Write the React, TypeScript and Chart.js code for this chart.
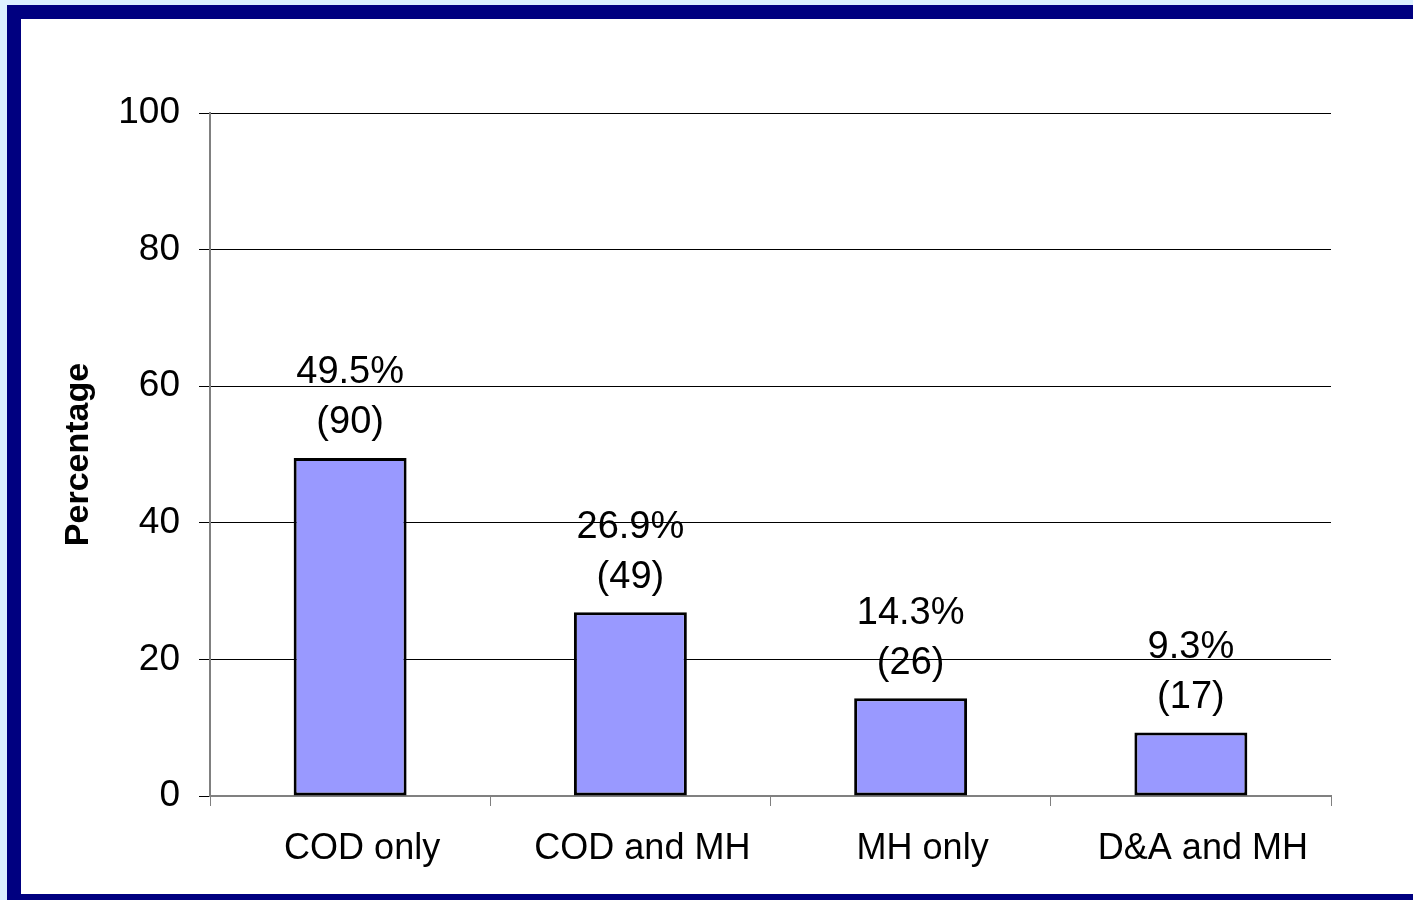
import React, { useEffect, useRef } from 'react';
import { Chart, registerables } from 'chart.js';

Chart.register(...registerables);

const categories = ['COD only', 'COD and MH', 'MH only', 'D&A and MH'];
const percentages = [49.5, 26.9, 14.3, 9.3];
const counts = [90, 49, 26, 17];
const yTicks = [0, 20, 40, 60, 80, 100];
const yTitle = 'Percentage';

const FONT = '"Liberation Sans", Arial, sans-serif';

const barLabelPlugin = {
  id: 'barLabels',
  afterDatasetsDraw(chart: any) {
    const ctx = chart.ctx;
    const meta = chart.getDatasetMeta(0);
    ctx.save();
    ctx.font = `38px ${FONT}`;
    ctx.fillStyle = '#000000';
    ctx.textAlign = 'center';
    ctx.textBaseline = 'middle';
    meta.data.forEach((el: any, i: number) => {
      const { x, y } = el.getProps(['x', 'y'], true);
      ctx.fillText(`${percentages[i].toFixed(1)}%`, x, y - 85);
      ctx.fillText(`(${counts[i]})`, x, y - 35);
    });
    ctx.restore();
  },
};

export default function App() {
  const canvasRef = useRef<HTMLCanvasElement | null>(null);

  useEffect(() => {
    if (!canvasRef.current) return;
    const chart = new Chart(canvasRef.current, {
      type: 'bar',
      data: {
        labels: categories,
        datasets: [
          {
            data: percentages,
            backgroundColor: '#9999FF',
            borderColor: '#000000',
            borderWidth: 3,
            borderSkipped: false,
            barPercentage: 0.403,
            categoryPercentage: 1,
          },
        ],
      },
      options: {
        responsive: false,
        animation: false,
        devicePixelRatio: 1,
        layout: { padding: { left: 40, top: 113, right: 82, bottom: 6 } },
        plugins: {
          legend: { display: false },
          tooltip: { enabled: false },
        },
        scales: {
          x: {
            offset: true,
            grid: {
              offset: true,
              drawOnChartArea: false,
              drawTicks: true,
              tickLength: 10,
              tickColor: '#808080',
              tickWidth: 1,
            },
            border: { display: true, color: '#808080', width: 2 },
            ticks: {
              color: '#000000',
              font: { family: FONT, size: 36 },
              padding: 21,
              labelOffset: 12,
              maxRotation: 0,
              autoSkip: false,
            },
            afterFit: (scale: any) => {
              scale.height = 98;
            },
          },
          y: {
            min: 0,
            max: 100,
            afterBuildTicks: (scale: any) => {
              scale.ticks = yTicks.map((v) => ({ value: v }));
            },
            grid: {
              color: (c: any) => (c.tick && c.tick.value === 0 ? 'rgba(0,0,0,0)' : '#000000'),
              lineWidth: 1,
              drawTicks: true,
              tickLength: 11,
              tickColor: '#000000',
            },
            border: { display: true, color: '#808080', width: 2 },
            ticks: {
              color: '#000000',
              font: { family: FONT, size: 37 },
              padding: 19,
            },
            title: {
              display: true,
              text: yTitle,
              color: '#000000',
              font: { family: FONT, size: 34, weight: 'bold' },
              padding: { top: 18, bottom: 0 },
            },
            afterFit: (scale: any) => {
              scale.width = 170;
            },
          },
        },
      },
      plugins: [barLabelPlugin],
    });
    return () => chart.destroy();
  }, []);

  return (
    <div style={{ position: 'absolute', left: 0, top: 0, width: 1413, height: 900, background: '#DCF0FF', overflow: 'hidden' }}>
      <div style={{ position: 'absolute', left: 7, top: 5, width: 1406, height: 895, background: '#000080' }} />
      <div style={{ position: 'absolute', left: 21, top: 19, width: 1392, height: 875, background: '#FFFFFF' }} />
      <canvas
        ref={canvasRef}
        width={1413}
        height={900}
        style={{ position: 'absolute', left: 0, top: 0, width: 1413, height: 900 }}
      />
    </div>
  );
}
